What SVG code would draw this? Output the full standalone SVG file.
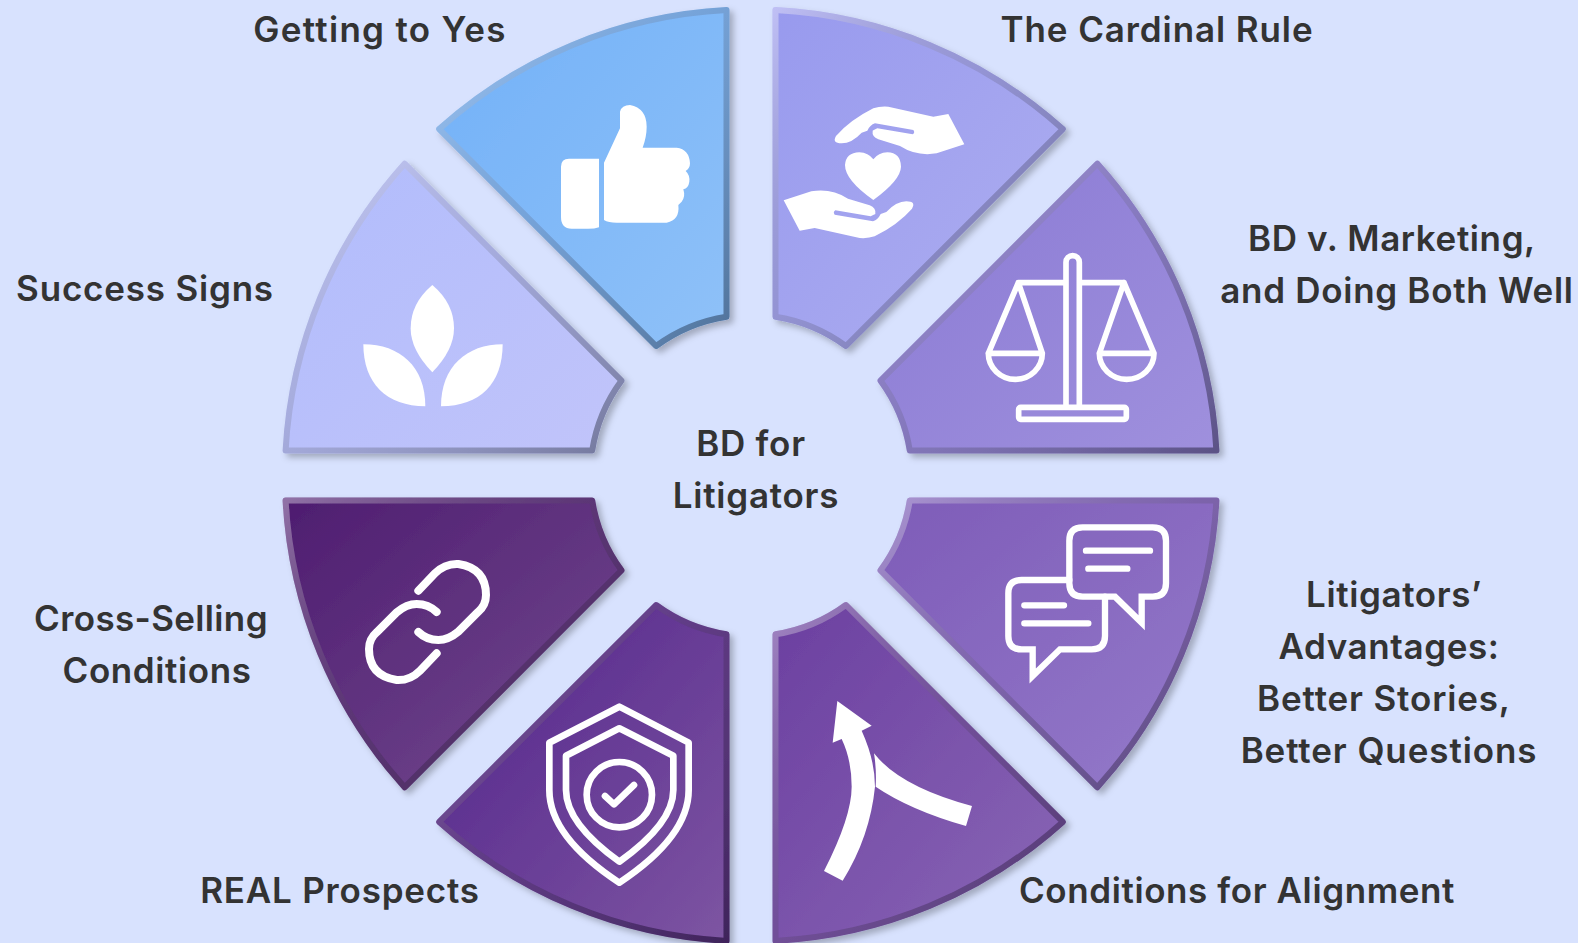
<svg xmlns="http://www.w3.org/2000/svg" width="1578" height="943" viewBox="0 0 1578 943">
<defs>
<linearGradient id="bevel" x1="0" y1="0" x2="1" y2="1"><stop offset="0" stop-color="#fff" stop-opacity=".3"/><stop offset=".45" stop-color="#444" stop-opacity=".16"/><stop offset="1" stop-color="#000" stop-opacity=".38"/></linearGradient>
<linearGradient id="g1" x1="0" y1="0" x2="1" y2="1"><stop offset="0" stop-color="#72b1f8"/><stop offset="1" stop-color="#8fc1f8"/></linearGradient>
<linearGradient id="g2" x1="0" y1="0" x2="1" y2="1"><stop offset="0" stop-color="#989aee"/><stop offset="1" stop-color="#aeaef0"/></linearGradient>
<linearGradient id="g3" x1="0" y1="0" x2="1" y2="1"><stop offset="0" stop-color="#8a7ad4"/><stop offset="1" stop-color="#9f90dd"/></linearGradient>
<linearGradient id="g4" x1="0" y1="0" x2="1" y2="1"><stop offset="0" stop-color="#7e5cb8"/><stop offset="1" stop-color="#947aca"/></linearGradient>
<linearGradient id="g5" x1="0" y1="0" x2="1" y2="1"><stop offset="0" stop-color="#6b3fa0"/><stop offset="1" stop-color="#8a67b6"/></linearGradient>
<linearGradient id="g6" x1="0" y1="0" x2="1" y2="1"><stop offset="0" stop-color="#52238a"/><stop offset="1" stop-color="#7d55a2"/></linearGradient>
<linearGradient id="g7" x1="0" y1="0" x2="1" y2="1"><stop offset="0" stop-color="#4e1d70"/><stop offset="1" stop-color="#744b90"/></linearGradient>
<linearGradient id="g8" x1="0" y1="0" x2="1" y2="1"><stop offset="0" stop-color="#b1bcfc"/><stop offset="1" stop-color="#c1c4fa"/></linearGradient>
<filter id="sh" x="-10%" y="-10%" width="120%" height="120%"><feDropShadow dx="4" dy="4" stdDeviation="3" flood-color="#000" flood-opacity=".25"/></filter>
<path id="p1" d="M726.5 10.1A466 466 0 0 0 439.2 129.1L656.1 346A160.5 160.5 0 0 1 726.5 316.7Z"/>
<path id="p2" d="M775.5 10.1A466 466 0 0 1 1062.8 129.1L845.9 346A160.5 160.5 0 0 0 775.5 316.7Z"/>
<path id="p3" d="M1097.4 163.7A466 466 0 0 1 1216.4 450.5H909.8A160.5 160.5 0 0 0 880.5 380.6Z"/>
<path id="p4" d="M1216.4 500.5A466 466 0 0 1 1097.4 787.3L880.5 570.4A160.5 160.5 0 0 0 909.8 500.5Z"/>
<path id="p5" d="M775.5 940.9A466 466 0 0 0 1062.8 821.9L845.9 605A160.5 160.5 0 0 1 775.5 634.3Z"/>
<path id="p6" d="M726.5 940.9A466 466 0 0 1 439.2 821.9L656.1 605A160.5 160.5 0 0 0 726.5 634.3Z"/>
<path id="p7" d="M285.6 500.5A466 466 0 0 0 404.6 787.3L621.5 570.4A160.5 160.5 0 0 1 592.2 500.5Z"/>
<path id="p8" d="M285.6 450.5A466 466 0 0 1 404.6 163.7L621.5 380.6A160.5 160.5 0 0 0 592.2 450.5Z"/>
</defs>
<style>
.s{filter:url(#sh);stroke-width:6;stroke-linejoin:round}
.b{fill:none;stroke:url(#bevel)}
.w{fill:#fff}
.o{fill:none;stroke:#fff;stroke-linejoin:round;stroke-linecap:round}
text{font-family:"Inter","Noto Sans","Liberation Sans",sans-serif;font-weight:600;font-size:35px;letter-spacing:.9px;fill:#333;text-anchor:middle}
</style>
<rect width="1578" height="943" fill="#d8e2fe"/>
<g id="connectors"/>
<g id="node-getting-to-yes">
<g class="s"><use href="#p1" fill="url(#g1)" stroke="#80b6f6"/><use href="#p1" class="b"/></g>
<g transform="translate(420 0) scale(.33333)" class="w">
<path d="M423 500Q423 476 447 476H537V682Q520 688 490 686H455Q423 686 423 650Z"/>
<path d="M552 488L600 385V335Q605 315 630 315Q680 325 680 380Q680 410 668 443H770Q808 448 810 490Q810 505 797 513Q810 525 808 545Q805 565 790 568Q797 590 785 605L775 615Q780 660 740 668H590Q565 668 552 660Z"/>
</g>
<text x="380" y="42" style="letter-spacing:1.3px">Getting to Yes</text>
</g>
<g id="node-cardinal-rule">
<g class="s"><use href="#p2" fill="url(#g2)" stroke="#a3a3ef"/><use href="#p2" class="b"/></g>
<g transform="translate(760 0) scale(.33333)" class="w">
<path id="hand" d="M305 398L322 392Q330 375 345 370L460 390Q466 398 458 403L352 385Q338 392 338 392Q335 410 355 418L420 438Q470 470 530 460L613 433L565 342L520 350L385 320Q360 318 340 325Q270 360 228 408Q215 430 245 430Q275 430 305 398Z"/>
<use href="#hand" transform="rotate(180 342 517)"/>
<path d="M340 600Q255 540 255 495Q258 458 298 457Q325 458 340 478Q355 458 382 457Q422 458 423 500Q422 540 340 600Z"/>
</g>
<text x="1157" y="42">The Cardinal Rule</text>
</g>
<g id="node-bd-marketing">
<g class="s"><use href="#p3" fill="url(#g3)" stroke="#9485d8"/><use href="#p3" class="b"/></g>
<g transform="translate(860 150) scale(.33333)" class="o" stroke-width="17">
<path d="M618 770V337a20 20 0 0 1 40 0V770"/>
<rect x="476" y="772" width="323" height="36" rx="6"/>
<path d="M475 398H610M665 398H792M475 398L385 610H547ZM385 610A81 78 0 0 0 547 610M792 398L718 610H882ZM718 610A82 78 0 0 0 882 610"/>
</g>
<text x="1392" y="251" style="letter-spacing:.6px">BD v. Marketing,</text>
<text x="1397" y="303" style="letter-spacing:.7px">and Doing Both Well</text>
</g>
<g id="node-litigators-advantages">
<g class="s"><use href="#p4" fill="url(#g4)" stroke="#896bc1"/><use href="#p4" class="b"/></g>
<g transform="translate(860 480) scale(.33333)" class="o" stroke-width="19">
<path stroke-linejoin="miter" d="M668 142H878Q918 142 918 182V310Q918 350 878 350H845V428L765 350H668Q628 350 628 310V182Q628 142 668 142Z"/>
<path stroke-linejoin="miter" d="M628 300H485Q445 300 445 340V468Q445 508 485 508H518V588L600 508H695Q735 508 735 468V350"/>
<path d="M678 212H870M685 266H802M493 376H612M493 430H685"/>
</g>
<text x="1394" y="607" style="letter-spacing:.6px">Litigators’</text>
<text x="1389" y="659" style="letter-spacing:.6px">Advantages:</text>
<text x="1384" y="711" style="letter-spacing:.85px">Better Stories,</text>
<text x="1389" y="763">Better Questions</text>
</g>
<g id="node-conditions-alignment">
<g class="s"><use href="#p5" fill="url(#g5)" stroke="#7b53ab"/><use href="#p5" class="b"/></g>
<g transform="translate(760 590) scale(.33333)" class="w">
<path d="M192 843Q275 680 275 590Q275 510 245 447L218 458L232 333L335 407L305 422Q345 510 345 590Q330 740 248 872Z"/>
<path d="M342 490Q420 590 636 648L618 708Q450 660 347 590Q350 540 342 490Z"/>
</g>
<text x="1237" y="903" style="letter-spacing:.6px">Conditions for Alignment</text>
</g>
<g id="node-real-prospects">
<g class="s"><use href="#p6" fill="url(#g6)" stroke="#663a93"/><use href="#p6" class="b"/></g>
<g transform="translate(420 590) scale(.33333)" class="o" stroke-width="20">
<path d="M598 350L806 458V600Q806 740 598 878Q388 740 388 600V458Z"/>
<path d="M598 415L760 497V600Q760 700 598 815Q438 700 438 600V497Z"/>
<circle cx="598" cy="614" r="98"/>
<path d="M555 618L582 643L642 585"/>
</g>
<text x="340" y="903" style="letter-spacing:.8px">REAL Prospects</text>
</g>
<g id="node-cross-selling">
<g class="s"><use href="#p7" fill="url(#g7)" stroke="#613480"/><use href="#p7" class="b"/></g>
<g transform="translate(270 480) scale(.33333)" class="o" stroke-width="24">
<path id="lnk" d="M445 332L495 280Q525 250 565 252Q648 265 648 345Q648 375 625 395L565 455Q535 480 505 480Q470 480 445 456"/>
<use href="#lnk" transform="rotate(180 472.5 426)"/>
</g>
<text x="151" y="631" style="letter-spacing:.35px">Cross-Selling</text>
<text x="157" y="683" style="letter-spacing:.6px">Conditions</text>
</g>
<g id="node-success-signs">
<g class="s"><use href="#p8" fill="url(#g8)" stroke="#b9c0fb"/><use href="#p8" class="b"/></g>
<g transform="translate(270 150) scale(.33333)" class="w">
<path d="M487 405Q552 460 552 535Q552 600 487 667Q422 600 422 535Q422 460 487 405Z"/>
<path d="M280 583C390 583 466 650 466 769C350 769 280 700 280 583Z"/>
<path d="M698 583C590 583 513 650 513 769C630 769 698 700 698 583Z"/>
</g>
<text x="145" y="301" style="letter-spacing:.8px">Success Signs</text>
</g>
<g id="node-center">
<text x="751" y="456" style="letter-spacing:.75px">BD for</text>
<text x="756" y="508" style="letter-spacing:.75px">Litigators</text>
</g>
</svg>
